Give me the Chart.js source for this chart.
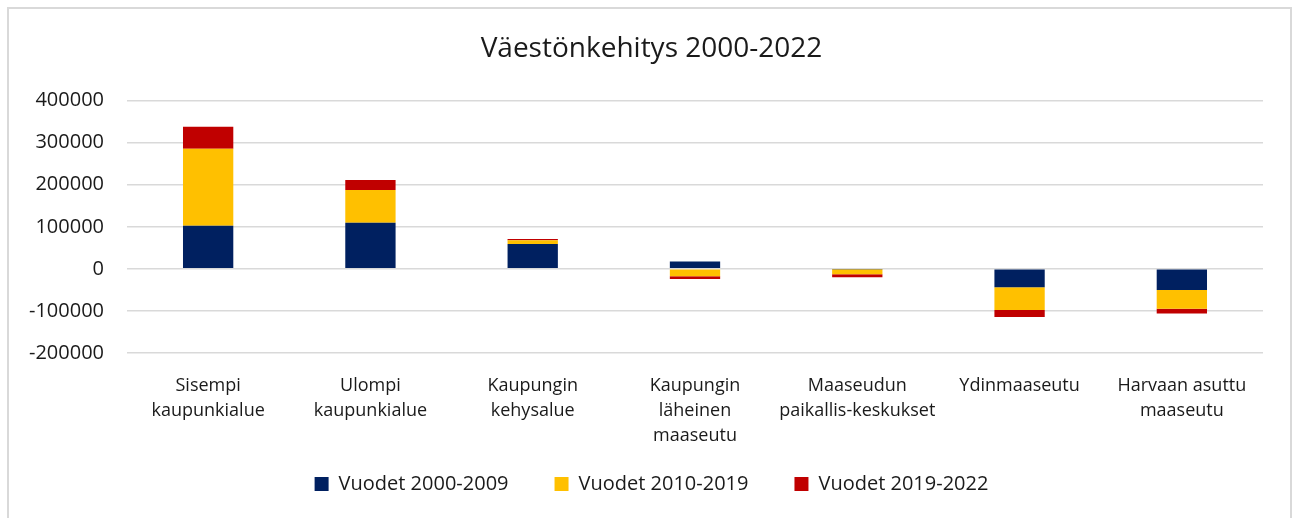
<!DOCTYPE html>
<html>
<head>
<meta charset="utf-8">
<script src="https://cdn.jsdelivr.net/npm/chart.js@4/dist/chart.umd.min.js"></script>
<style>
  html, body { margin: 0; padding: 0; background: #fff; }
  #wrap { position: absolute; left: 0; top: 0; width: 1293px; height: 518px; }
</style>
</head>
<body>
<div id="wrap"><canvas id="myChart" width="1293" height="518"></canvas></div>
<script>
// categories (x axis), multi-line like the original
const categories = [
    ['Sisempi', 'kaupunkialue'],
    ['Ulompi', 'kaupunkialue'],
    ['Kaupungin', 'kehysalue'],
    ['Kaupungin', 'läheinen', 'maaseutu'],
    ['Maaseudun', 'paikallis-keskukset'],
    ['Ydinmaaseutu'],
    ['Harvaan asuttu', 'maaseutu']
];

// population change per period
const years2000_2009 = [102600, 109700, 59200, 17300, -1000, -43600, -50000];
const years2010_2019 = [182700, 78000, 8800, -17500, -11800, -54000, -45000];
const years2019_2022 = [52700, 23600, 3000, -6300, -7100, -16700, -11000];

const seriesNames = ['Vuodet 2000-2009', 'Vuodet 2010-2019', 'Vuodet 2019-2022'];
const yTicks = [-200000, -100000, 0, 100000, 200000, 300000, 400000];

const FONT = "'Open Sans', 'Liberation Sans', sans-serif";

// light frame around the chart, like the exported picture
const framePlugin = {
    id: 'frame',
    beforeDraw(chart) {
        const ctx = chart.ctx;
        ctx.save();
        ctx.fillStyle = '#fff';
        ctx.fillRect(0, 0, chart.width, chart.height);
        ctx.strokeStyle = '#d9d9d9';
        ctx.lineWidth = 2;
        ctx.strokeRect(8, 8, 1283, 530);
        ctx.restore();
    }
};

// tick labels are allowed to spill out of their axis box (3-line labels, wide y labels)
const noLabelClip = {
    id: 'noLabelClip',
    afterLayout(chart) {
        Object.values(chart.scales).forEach(s => { s._computeLabelArea = () => undefined; });
    }
};

function renderChart() {
    const ctx = document.getElementById('myChart').getContext('2d');
    new Chart(ctx, {
        type: 'bar',
        data: {
            labels: categories,
            datasets: [
                { label: seriesNames[0], data: years2000_2009, backgroundColor: '#002060' },
                { label: seriesNames[1], data: years2010_2019, backgroundColor: '#FFC000' },
                { label: seriesNames[2], data: years2019_2022, backgroundColor: '#C00000' }
            ]
        },
        options: {
            responsive: false,
            animation: false,
            layout: { padding: { top: 20, right: 30, left: 40, bottom: 14 } },
            datasets: { bar: { categoryPercentage: 1, barPercentage: 0.31 } },
            plugins: {
                title: {
                    display: true,
                    text: 'Väestönkehitys 2000-2022',
                    color: '#1a1a1a',
                    font: { family: FONT, size: 28, weight: 'normal' },
                    padding: { top: 12, bottom: 35 }
                },
                legend: {
                    position: 'bottom',
                    labels: {
                        color: '#1a1a1a',
                        font: { family: FONT, size: 20 },
                        boxWidth: 14,
                        boxHeight: 14,
                        padding: 46
                    }
                },
                tooltip: { enabled: false }
            },
            scales: {
                x: {
                    stacked: true,
                    grid: { display: false },
                    border: { display: false },
                    ticks: {
                        color: '#1a1a1a',
                        font: { family: FONT, size: 18, lineHeight: 1.4 },
                        padding: 12,
                        maxRotation: 0,
                        autoSkip: false
                    },
                    afterFit(scale) { scale.height = 75; }
                },
                y: {
                    stacked: true,
                    min: -200000,
                    max: 400000,
                    afterBuildTicks(scale) { scale.ticks = yTicks.map(v => ({ value: v })); },
                    grid: { color: '#d9d9d9', lineWidth: 1.5, drawTicks: false },
                    border: { display: false },
                    ticks: {
                        color: '#1a1a1a',
                        font: { family: FONT, size: 20 },
                        padding: 23,
                        callback: v => String(v)
                    },
                    afterFit(scale) { scale.width = 87; }
                }
            }
        },
        plugins: [framePlugin, noLabelClip]
    });
}

renderChart();
</script>
</body>
</html>
